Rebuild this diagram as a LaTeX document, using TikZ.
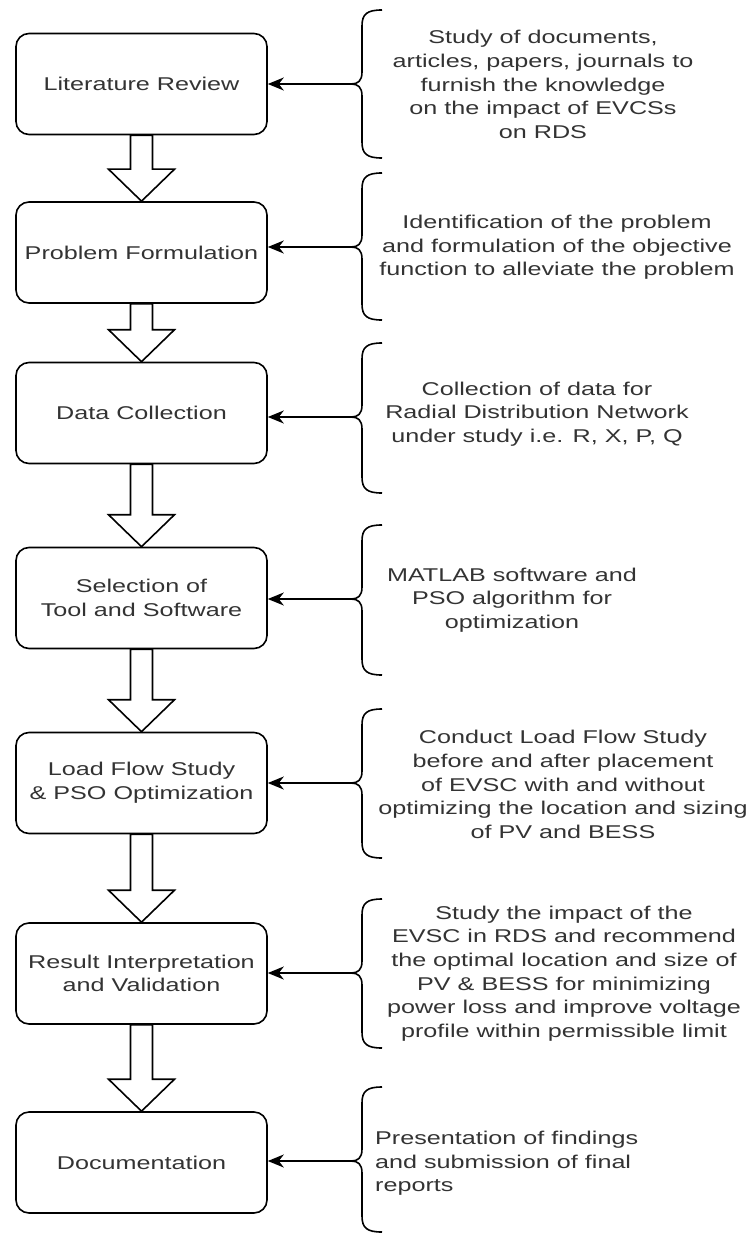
\documentclass[tikz,border=0pt]{standalone}
\usepackage{fontspec}
\setmainfont{Liberation Sans}[FakeStretch=1.36]
\usetikzlibrary{arrows.meta,calc}
\definecolor{txt}{HTML}{333333}
\newcommand\mybrace[4]{%
  \draw[bracestyle] (382,#2) .. controls (367,#2) and (362,#2+4) .. (362,#2+16)
    -- (362,#3-12) .. controls (362,#3-3) and (358,#3) .. (351,#3)
    .. controls (358,#3) and (362,#3+3) .. (362,#3+12)
    -- (362,#4-16) .. controls (362,#4-4) and (367,#4) .. (382,#4);
  \coordinate (#1) at (351,#3);}
\newcommand\blockarrow[2]{%
  \draw[blk] ($(#1.south)+(-11,0)$) -- ($(#1.south)+(11,0)$)
    -- ($(#2.north)+(11,-32)$) -- ($(#2.north)+(33,-32)$) -- (#2.north)
    -- ($(#2.north)+(-33,-32)$) -- ($(#2.north)+(-11,-32)$) -- cycle;}
\begin{document}
\begin{tikzpicture}[x=1pt,y=-1pt,
  stepbox/.style={draw=black, line width=1.6pt, rounded corners=13pt,
    minimum width=251pt, minimum height=101pt, inner sep=0pt, align=center,
    text=txt, font=\fontsize{18.5}{23.6}\selectfont},
  desc/.style={align=center, inner sep=0pt, text=txt,
    font=\fontsize{18.5}{23.6}\selectfont},
  descl/.style={desc, align=left, anchor=west},
  bracestyle/.style={line width=1.6pt, draw=black},
  feed/.style={line width=1.6pt, draw=black, -{Stealth[length=16pt,width=13pt,inset=5pt]}},
  blk/.style={line width=1.6pt, draw=black, fill=white, line join=miter}]
\useasboundingbox (0,0) rectangle (754,1233);

% steps
\node[stepbox] (b1) at (141.5,84) {Literature Review};
\node[stepbox] (b2) at (141.5,252.5) {Problem Formulation};
\node[stepbox] (b3) at (141.5,413) {Data Collection};
\node[stepbox] (b4) at (141.5,598) {Selection of\\Tool and Software};
\node[stepbox] (b5) at (141.5,783) {Load Flow Study\\\& PSO Optimization};
\node[stepbox] (b6) at (141.5,973.5) {Result Interpretation\\and Validation};
\node[stepbox] (b7) at (141.5,1162.5) {Documentation};

% block arrows
\blockarrow{b1}{b2}
\blockarrow{b2}{b3}
\blockarrow{b3}{b4}
\blockarrow{b4}{b5}
\blockarrow{b5}{b6}
\blockarrow{b6}{b7}

% braces
\mybrace{t1}{10}{84}{158}
\mybrace{t2}{173}{247}{320}
\mybrace{t3}{343}{417}{493}
\mybrace{t4}{525}{599}{675}
\mybrace{t5}{709}{783}{858}
\mybrace{t6}{899}{973}{1048}
\mybrace{t7}{1087}{1161}{1232}

% feedback arrows
\foreach \i in {1,...,7} {\draw[feed] (t\i) -- (t\i -| b\i.east);}

% descriptions
\node[desc] (d1) at (543,84.5) {Study of documents,\\articles, papers, journals to\\furnish the knowledge\\on the impact of EVCSs\\on RDS};
\node[desc] (d2) at (557,247.5) {Identification of the problem\\and formulation of the objective\\function to alleviate the problem};
\node[desc] (d3) at (537,414) {Collection of data for\\Radial Distribution Network\\under study i.e. R, X, P, Q};
\node[desc] (d4) at (512,600) {MATLAB software and\\PSO algorithm for\\optimization};
\node[desc] (d5) at (563,784.5) {Conduct Load Flow Study\\before and after placement\\of EVSC with and without\\optimizing the location and sizing\\of PV and BESS};
\node[desc] (d6) at (564,973.5) {Study the impact of the\\EVSC in RDS and recommend\\the optimal location and size of\\PV \& BESS for minimizing\\power loss and improve voltage\\profile within permissible limit};
\node[descl] (d7) at (375,1163.5) {Presentation of findings\\and submission of final\\reports};
\end{tikzpicture}
\end{document}
